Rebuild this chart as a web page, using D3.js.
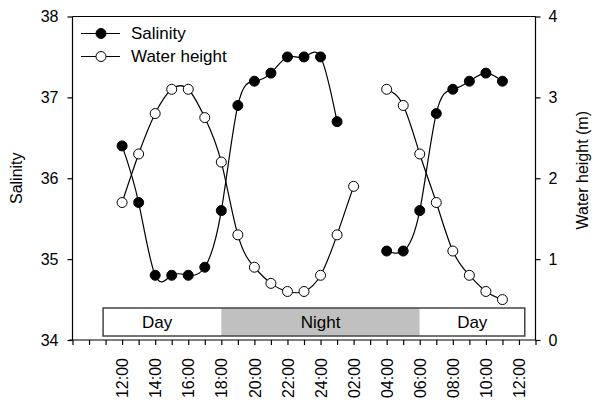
<!DOCTYPE html>
<html>
<head>
<meta charset="utf-8">
<script src="https://cdn.jsdelivr.net/npm/d3@7"></script>
<style>
  body { margin: 0; background: #fff; }
  svg { font-family: "Liberation Sans", Arial, sans-serif; }
</style>
</head>
<body>
<svg width="599" height="402"></svg>
<script>
// hours counted from midnight of day 1 (25 = 01:00 next day)
var salHours1 = [12, 13, 14, 15, 16, 17, 18, 19, 20, 21, 22, 23, 24, 25];
var salinity1 = [36.4, 35.7, 34.8, 34.8, 34.8, 34.9, 35.6, 36.9, 37.2, 37.3, 37.5, 37.5, 37.5, 36.7];
var salHours2 = [28, 29, 30, 31, 32, 33, 34, 35];
var salinity2 = [35.1, 35.1, 35.6, 36.8, 37.1, 37.2, 37.3, 37.2];

var waterHours1 = [12, 13, 14, 15, 16, 17, 18, 19, 20, 21, 22, 23, 24, 25, 26];
var water1 = [1.7, 2.3, 2.8, 3.1, 3.1, 2.75, 2.2, 1.3, 0.9, 0.7, 0.6, 0.6, 0.8, 1.3, 1.9];
var waterHours2 = [28, 29, 30, 31, 32, 33, 34, 35];
var water2 = [3.1, 2.9, 2.3, 1.7, 1.1, 0.8, 0.6, 0.5];

var labelHours = [12, 14, 16, 18, 20, 22, 24, 26, 28, 30, 32, 34, 36];
var tickLabels = ["12:00", "14:00", "16:00", "18:00", "20:00", "22:00", "24:00",
                  "02:00", "04:00", "06:00", "08:00", "10:00", "12:00"];
var salTicks = [34, 35, 36, 37, 38];
var waterTicks = [0, 1, 2, 3, 4];

var periodNames = ["Day", "Night", "Day"];
var periodStart = [10.85, 18, 30];
var periodEnd = [18, 30, 36.35];

var svg = d3.select("svg");
var pLeft = 72.5, pRight = 535.5, pTop = 16.5, pBottom = 340;

var x = d3.scaleLinear().domain([9, 37]).range([pLeft, pRight]);
var ySal = d3.scaleLinear().domain([34, 38]).range([pBottom, pTop]);
var yWat = d3.scaleLinear().domain([0, 4]).range([pBottom, pTop]);

// frame top line
svg.append("line")
    .attr("x1", pLeft).attr("x2", pRight)
    .attr("y1", pTop).attr("y2", pTop)
    .attr("stroke", "#000").attr("stroke-width", 1.2);

// day / night bar
var bar = svg.append("g");
for (var i = 0; i < periodNames.length; i++) {
    bar.append("rect")
        .attr("x", x(periodStart[i]))
        .attr("y", 308)
        .attr("width", x(periodEnd[i]) - x(periodStart[i]))
        .attr("height", 28)
        .attr("fill", periodNames[i] == "Night" ? "#c0c0c0" : "#fff");
    bar.append("text")
        .attr("x", (x(periodStart[i]) + x(periodEnd[i])) / 2 - (i == 0 ? 5 : 0))
        .attr("y", 328)
        .attr("text-anchor", "middle")
        .attr("font-size", 17)
        .text(periodNames[i]);
}
bar.append("rect")
    .attr("x", x(periodStart[0]))
    .attr("y", 308)
    .attr("width", x(periodEnd[2]) - x(periodStart[0]))
    .attr("height", 28)
    .attr("fill", "none")
    .attr("stroke", "#444")
    .attr("stroke-width", 1.5);

// axes
var yLeft = svg.append("g")
    .attr("transform", "translate(" + pLeft + ",0)")
    .call(d3.axisLeft(ySal).tickValues(salTicks).tickFormat(d3.format("d")).tickSize(5).tickPadding(9));
var yRight = svg.append("g")
    .attr("transform", "translate(" + pRight + ",0)")
    .call(d3.axisRight(yWat).tickValues(waterTicks).tickFormat(d3.format("d")).tickSize(5).tickPadding(8));
var xAxis = svg.append("g")
    .attr("transform", "translate(0," + pBottom + ")")
    .call(d3.axisBottom(x).tickValues(d3.range(9, 38)).tickSize(5).tickFormat(""));
var xLabels = svg.append("g")
    .attr("transform", "translate(0," + pBottom + ")")
    .call(d3.axisBottom(x).tickValues(labelHours).tickSize(0)
        .tickFormat(function(d, i){ return tickLabels[i]; }));
xLabels.select(".domain").remove();

[yLeft, yRight, xAxis, xLabels].forEach(function(a){
    a.selectAll(".domain").attr("stroke-width", 1.2);
    a.selectAll("line").attr("stroke-width", 1.2);
    a.selectAll("text").attr("font-size", 16).attr("fill", "#000")
        .attr("font-family", "Liberation Sans, Arial, sans-serif");
});
xLabels.selectAll("text")
    .attr("transform", "rotate(-90)")
    .attr("text-anchor", "end")
    .attr("x", -18)
    .attr("y", 0)
    .attr("dy", "0.35em");
yLeft.select(".domain").attr("d", "M0," + pBottom + "V" + pTop);
yRight.select(".domain").attr("d", "M0," + pBottom + "V" + pTop);
xAxis.select(".domain").attr("d", "M" + (pLeft - 3) + ",0H" + pRight);

// axis titles
svg.append("text")
    .attr("transform", "translate(22," + (pTop + pBottom) / 2 + ") rotate(-90)")
    .attr("text-anchor", "middle")
    .attr("font-size", 16)
    .text("Salinity");
svg.append("text")
    .attr("transform", "translate(588," + ((pTop + pBottom) / 2 - 8) + ") rotate(-90)")
    .attr("text-anchor", "middle")
    .attr("font-size", 16)
    .text("Water height (m)");

// series
function drawSeries(hours, vals, yScale, fill) {
    var pts = hours.map(function(h, i){ return [x(h), yScale(vals[i])]; });
    svg.append("path")
        .attr("d", d3.line().curve(d3.curveNatural)(pts))
        .attr("fill", "none")
        .attr("stroke", "#000")
        .attr("stroke-width", 1.2);
    svg.append("g").selectAll("circle")
        .data(pts)
        .enter().append("circle")
        .attr("cx", function(d){ return d[0]; })
        .attr("cy", function(d){ return d[1]; })
        .attr("r", 5)
        .attr("fill", fill)
        .attr("stroke", "#000")
        .attr("stroke-width", 1);
}
drawSeries(waterHours1, water1, yWat, "#fff");
drawSeries(waterHours2, water2, yWat, "#fff");
drawSeries(salHours1, salinity1, ySal, "#000");
drawSeries(salHours2, salinity2, ySal, "#000");

// legend
var legendNames = ["Salinity", "Water height"];
var legendFill = ["#000", "#fff"];
var legend = svg.append("g");
legendNames.forEach(function(name, i){
    var ly = 33.5 + i * 23;
    legend.append("line")
        .attr("x1", 81).attr("x2", 120)
        .attr("y1", ly).attr("y2", ly)
        .attr("stroke", "#000").attr("stroke-width", 1.2);
    legend.append("circle")
        .attr("cx", 101).attr("cy", ly).attr("r", 5)
        .attr("fill", legendFill[i]).attr("stroke", "#000");
    legend.append("text")
        .attr("x", 131).attr("y", ly)
        .attr("dy", "0.35em")
        .attr("font-size", 17)
        .text(name);
});
</script>
</body>
</html>
